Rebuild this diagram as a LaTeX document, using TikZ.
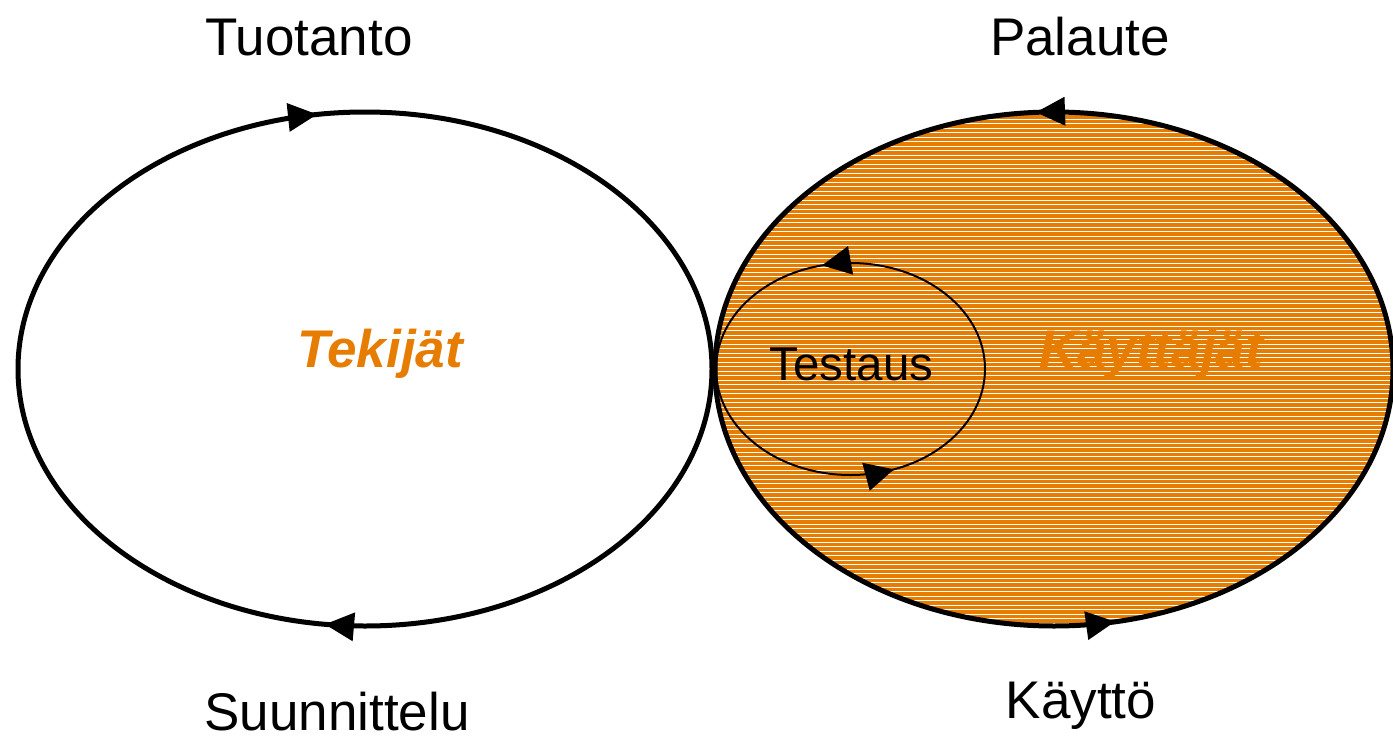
\documentclass[tikz,border=0pt]{standalone}
\usepackage{fontspec}
\setmainfont{Liberation Sans}
\definecolor{ora}{RGB}{230,124,0}
\newcommand\ahead[2]{\fill[black,shift={#1},rotate=#2] (0,0) -- (-29,14.5) -- (-29,-14.5) -- cycle;}
\begin{document}
\begin{tikzpicture}[x=1pt,y=-1pt,
  lbl/.style={anchor=base,inner sep=0pt,font=\fontsize{53}{60}\selectfont},
  who/.style={anchor=base,inner sep=0pt,text=ora,font=\fontsize{53}{60}\selectfont\bfseries\itshape},
  outer/.style={line width=5pt},
  inner/.style={line width=2pt}]
\useasboundingbox (0,0) rectangle (1393,739);
% right ellipse: orange with white hatching
\begin{scope}
  \clip (1054,369) ellipse [x radius=339pt, y radius=257pt];
  \fill[ora] (700,100) rectangle (1400,640);
  \foreach \yy in {110,114.5,...,632} {
    \draw[white,line width=1pt] (700,\yy) -- (1400,\yy);
  }
\end{scope}
\node[who] (kt) at (1151,367) {Käyttäjät};
% inner ellipse
\draw[inner] (850.5,369) ellipse [x radius=134.5pt, y radius=106pt];
\node[lbl,font=\fontsize{47.5}{54}\selectfont] (te) at (851.5,380) {Testaus};
% outlines
\draw[outer] (365,369) ellipse [x radius=347pt, y radius=257pt];
\draw[outer] (1054,369) ellipse [x radius=339pt, y radius=257pt];
\node[who] (tk) at (380,367) {Tekijät};
% arrowheads
\ahead{(317,114.4)}{6}
\ahead{(325,624.3)}{175}
\ahead{(1036,112.3)}{182}
\ahead{(1115,621.6)}{8}
\ahead{(822,265.4)}{190}
\ahead{(894,469.3)}{15}
% labels
\node[lbl] (tu) at (309,55) {Tuotanto};
\node[lbl] (pa) at (1080,55) {Palaute};
\node[lbl] (su) at (337,730) {Suunnittelu};
\node[lbl] (ka) at (1081,718) {Käyttö};
\end{tikzpicture}
\end{document}
